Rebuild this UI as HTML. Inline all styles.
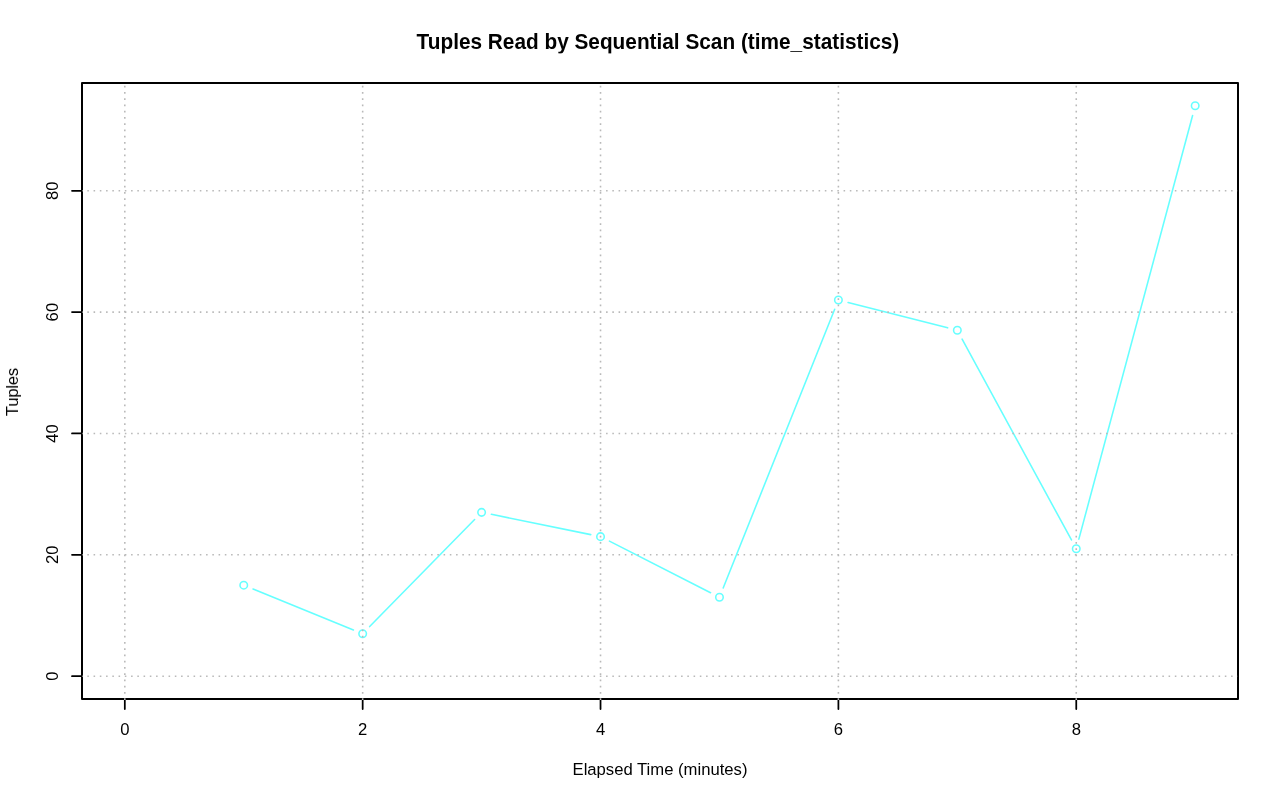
<!DOCTYPE html><html><head><meta charset="utf-8"><style>html,body{margin:0;padding:0;background:#fff;overflow:hidden;width:1280px;height:801px;}svg{display:block;}text{font-family:"Liberation Sans",sans-serif;fill:#000;}.t{opacity:0.999}</style></head><body>
<svg width="1280" height="801" viewBox="0 0 1280 801">
<rect width="1280" height="801" fill="#fff"/>
<defs><clipPath id="pc"><rect x="82" y="83" width="1157" height="617"/></clipPath><clipPath id="gc"><rect x="82" y="83" width="1155.2" height="617"/></clipPath></defs>
<g clip-path="url(#pc)">
<path d="M253.00 588.95L353.42 629.93M369.67 626.57L474.61 519.50M491.40 514.35L590.74 534.63M609.44 541.17L710.56 592.76M723.18 588.02L834.68 309.27M848.08 302.46L947.64 327.85M962.11 339.10L1071.47 539.98M1078.85 539.10L1192.59 115.47" stroke="#66ffff" stroke-width="1.5625" stroke-linecap="round" fill="none"/>
<circle cx="243.74" cy="585.17" r="3.75" stroke="#66ffff" stroke-width="1.5625" fill="none"/>
<circle cx="362.67" cy="633.71" r="3.75" stroke="#66ffff" stroke-width="1.5625" fill="none"/>
<circle cx="481.60" cy="512.36" r="3.75" stroke="#66ffff" stroke-width="1.5625" fill="none"/>
<circle cx="600.53" cy="536.63" r="3.75" stroke="#66ffff" stroke-width="1.5625" fill="none"/>
<circle cx="719.47" cy="597.30" r="3.75" stroke="#66ffff" stroke-width="1.5625" fill="none"/>
<circle cx="838.40" cy="299.98" r="3.75" stroke="#66ffff" stroke-width="1.5625" fill="none"/>
<circle cx="957.33" cy="330.32" r="3.75" stroke="#66ffff" stroke-width="1.5625" fill="none"/>
<circle cx="1076.26" cy="548.76" r="3.75" stroke="#66ffff" stroke-width="1.5625" fill="none"/>
<circle cx="1195.19" cy="105.81" r="3.75" stroke="#66ffff" stroke-width="1.5625" fill="none"/>
</g>
<rect x="82" y="83" width="1156" height="616" fill="none" stroke="#000" stroke-width="2" stroke-linejoin="round"/>
<path d="M124.81 699L124.81 709M362.67 699L362.67 709M600.53 699L600.53 709M838.40 699L838.40 709M1076.26 699L1076.26 709M82 676.19L72 676.19M82 554.83L72 554.83M82 433.47L72 433.47M82 312.12L72 312.12M82 190.76L72 190.76" stroke="#000" stroke-width="1.75" stroke-linecap="round" fill="none"/>
<g clip-path="url(#gc)"><path d="M124.81 699.93L124.81 82.07M362.67 699.93L362.67 82.07M600.53 699.93L600.53 82.07M838.40 699.93L838.40 82.07M1076.26 699.93L1076.26 82.07M81.07 676.19L1238.93 676.19M81.07 554.83L1238.93 554.83M81.07 433.47L1238.93 433.47M81.07 312.12L1238.93 312.12M81.07 190.76L1238.93 190.76" stroke="#b9b9b9" stroke-width="1.5625" stroke-linecap="butt" stroke-dasharray="1.5625 4.6875" fill="none"/></g>
<g class="t">
<text x="124.81" y="735" font-size="16.67" text-anchor="middle">0</text>
<text x="362.67" y="735" font-size="16.67" text-anchor="middle">2</text>
<text x="600.53" y="735" font-size="16.67" text-anchor="middle">4</text>
<text x="838.40" y="735" font-size="16.67" text-anchor="middle">6</text>
<text x="1076.26" y="735" font-size="16.67" text-anchor="middle">8</text>
<text transform="translate(58 676.19) rotate(-90)" font-size="16.67" text-anchor="middle">0</text>
<text transform="translate(58 554.83) rotate(-90)" font-size="16.67" text-anchor="middle">20</text>
<text transform="translate(58 433.47) rotate(-90)" font-size="16.67" text-anchor="middle">40</text>
<text transform="translate(58 312.12) rotate(-90)" font-size="16.67" text-anchor="middle">60</text>
<text transform="translate(58 190.76) rotate(-90)" font-size="16.67" text-anchor="middle">80</text>
<text x="660" y="775" font-size="16.67" text-anchor="middle">Elapsed Time (minutes)</text>
<text transform="translate(18 391.9) rotate(-90)" font-size="16.67" text-anchor="middle" textLength="48.4" lengthAdjust="spacing">Tuples</text>
<text transform="translate(657.9 48.96) scale(1 1.03)" font-size="20.8" font-weight="bold" text-anchor="middle">Tuples Read by Sequential Scan (time_statistics)</text>
</g>
</svg></body></html>
